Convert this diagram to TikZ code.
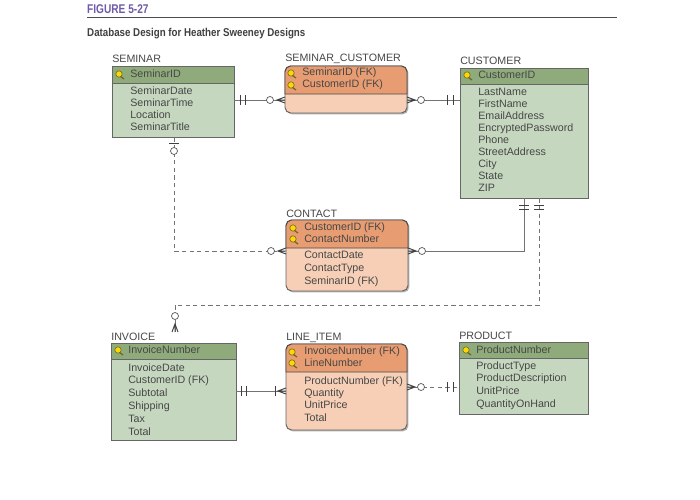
\documentclass[tikz,border=0pt]{standalone}
\usepackage{fontspec}
\setmainfont{Liberation Sans}
\usetikzlibrary{fit,shadows}

\colorlet{cInk}{black!72}
\definecolor{cGreenHead}{HTML}{8FAB7B}
\definecolor{cGreenBody}{HTML}{C6D7BF}
\definecolor{cOrangeHead}{HTML}{E89C72}
\definecolor{cOrangeBody}{HTML}{F6CFB6}
\definecolor{cPurple}{HTML}{6F5BA7}

\tikzset{
  txt/.style      = {font=\fontsize{7.6}{8.54}\selectfont, text=cInk, inner sep=0pt},
  attrs/.style    = {txt, anchor=north west, align=left},
  title/.style    = {txt, anchor=west},
  strongbox/.style= {draw=black!60, fill=cGreenBody, line width=0.7pt, inner sep=0pt,
                     drop shadow={shadow xshift=1pt, shadow yshift=-1pt, fill=black!60}},
  weakbox/.style  = {strongbox, fill=cOrangeBody, rounded corners=4pt},
  strongkey/.style= {draw=black!60, fill=cGreenHead, line width=0.7pt},
  weakkey/.style  = {draw=black!70, fill=cOrangeHead, line width=0.7pt},
  rel/.style      = {draw=black!55, line width=0.6pt},
  reldash/.style  = {rel, dashed, dash pattern=on 3pt off 2.4pt},
  onebar/.pic     = {\draw[black!75, line width=0.6pt] (0,-5) -- (0,5);},
  crow/.pic       = {\draw[black!75, line width=0.7pt] (8,-3) -- (0,0) -- (8,3) (0,0) -- (8,0);},
  ocircle/.pic    = {\draw[black!65, fill=white, line width=0.5pt] (0,0) circle (3.5);},
  keyicon/.pic    = {\draw[olive!70!black, fill=yellow!75!orange, line width=0.4pt] (0,0) circle (3.2);
                     \draw[olive!70!black, line width=0.9pt] (1.5,2.5) -- (5,5);},
}

\begin{document}
\begin{tikzpicture}[x=0.025cm, y=-0.025cm]

\useasboundingbox (0,0) rectangle (700,500);
\fill[white] (0,0) rectangle (700,500);

%% ---------- heading ----------
\node[anchor=west, inner sep=0pt, font=\fontsize{9}{10}\selectfont\bfseries, text=cPurple, xscale=0.8, transform shape] (figno) at (87,9) {FIGURE 5-27};
\draw[black!70, line width=0.7pt] (87,17) -- (617,17);
\node[anchor=west, inner sep=0pt, font=\fontsize{8.1}{10}\selectfont\bfseries, text=black!75, xscale=0.855, transform shape] (caption) at (87,34) {Database Design for Heather Sweeney Designs};

%% ---------- SEMINAR ----------
\node[title] (seminarname) at (112,59) {SEMINAR};
\node[strongbox, fit={(112,66) (234,137)}] (seminar) {};
\draw[strongkey] (112,66) rectangle (234,83);
\pic at (119,74) {keyicon};
\node[title] (seminarid) at (130,74) {SeminarID};
\node[attrs] at (130,86) {SeminarDate\\SeminarTime\\Location\\SeminarTitle};

%% ---------- SEMINAR_CUSTOMER ----------
\node[title] (semcustname) at (285,59) {SEMINAR\_CUSTOMER};
\node[weakbox, fit={(285,66) (407,113)}] (semcust) {};
\draw[weakkey] (285,94) [rounded corners=4pt] -- (285,66) -- (407,66) [sharp corners] -- (407,94) -- cycle;
\pic at (291,73) {keyicon};
\pic at (291,85) {keyicon};
\node[title] at (302,73) {SeminarID (FK)};
\node[title] at (302,85) {CustomerID (FK)};

%% ---------- CUSTOMER ----------
\node[title] (customername) at (460,61) {CUSTOMER};
\node[strongbox, fit={(460,68) (588,198)}] (customer) {};
\draw[strongkey] (460,68) rectangle (588,84);
\pic at (467,75) {keyicon};
\node[title] at (478,75) {CustomerID};
\node[attrs] at (478,88) {LastName\\FirstName\\EmailAddress\\EncryptedPassword\\Phone\\StreetAddress\\City\\State\\ZIP};

%% ---------- CONTACT ----------
\node[title] (contactname) at (286,214) {CONTACT};
\node[weakbox, fit={(286,220) (408,291)}] (contact) {};
\draw[weakkey] (286,248) [rounded corners=4pt] -- (286,220) -- (408,220) [sharp corners] -- (408,248) -- cycle;
\pic at (293,228) {keyicon};
\pic at (293,239) {keyicon};
\node[title] at (304,228) {CustomerID (FK)};
\node[title] at (304,239) {ContactNumber};
\node[attrs, font=\fontsize{7.6}{9.1}\selectfont] at (304,251) {ContactDate\\ContactType\\SeminarID (FK)};

%% ---------- INVOICE ----------
\node[title] (invoicename) at (111,337) {INVOICE};
\node[strongbox, fit={(111,343) (236,440)}] (invoice) {};
\draw[strongkey] (111,343) rectangle (236,359);
\pic at (118,350) {keyicon};
\node[title] at (128,350) {InvoiceNumber};
\node[attrs, font=\fontsize{7.6}{9.1}\selectfont] at (128,363) {InvoiceDate\\CustomerID (FK)\\Subtotal\\Shipping\\Tax\\Total};

%% ---------- LINE_ITEM ----------
\node[title] (lineitemname) at (286,338) {LINE\_ITEM};
\node[weakbox, fit={(286,344) (407,430)}] (lineitem) {};
\draw[weakkey] (286,372) [rounded corners=4pt] -- (286,344) -- (407,344) [sharp corners] -- (407,372) -- cycle;
\pic at (292,352) {keyicon};
\pic at (292,363) {keyicon};
\node[title] at (304,352) {InvoiceNumber (FK)};
\node[title] at (304,363) {LineNumber};
\node[attrs, font=\fontsize{7.6}{8.8}\selectfont] at (304,376) {ProductNumber (FK)\\Quantity\\UnitPrice\\Total};

%% ---------- PRODUCT ----------
\node[title] (productname) at (459,336) {PRODUCT};
\node[strongbox, fit={(459,342) (588,414)}] (product) {};
\draw[strongkey] (459,342) rectangle (588,358);
\pic at (466,350) {keyicon};
\node[title] at (476,350) {ProductNumber};
\node[attrs, font=\fontsize{7.6}{9.1}\selectfont] at (476,361) {ProductType\\ProductDescription\\UnitPrice\\QuantityOnHand};

%% ---------- relationships ----------
\coordinate (invoicefoot) at (175,332);

\draw[rel] (seminar.east |- 0,100) -- (semcust.west |- 0,100);
\pic at (240,100) {onebar};
\pic at (245,100) {onebar};
\pic at (277,100) {crow};
\pic at (270,100) {ocircle};

\draw[rel] (semcust.east |- 0,100) -- (customer.west |- 0,100);
\pic[rotate=180] at (415,100) {crow};
\pic at (421,100) {ocircle};
\pic at (447,100) {onebar};
\pic at (453,100) {onebar};

\draw[reldash] (seminar.south -| 174,0) -- (174,251) -- (contact.west |- 0,251);
\pic[rotate=90] at (174,143) {onebar};
\pic at (174,151) {ocircle};
\pic at (278,251) {crow};
\pic at (271,251) {ocircle};

\draw[rel] (contact.east |- 0,251) -- (524,251) -- (customer.south -| 524,0);
\pic[rotate=180] at (416,251) {crow};
\pic at (422,251) {ocircle};
\pic[rotate=90] at (524,205) {onebar};
\pic[rotate=90] at (524,209) {onebar};

\draw[reldash] (customer.south -| 539,0) -- (539,305) -- (175,305) -- (invoicefoot);
\pic[rotate=90] at (539,205) {onebar};
\pic[rotate=90] at (539,209) {onebar};
\pic at (175,316) {ocircle};
\pic[rotate=-90] at (175,324) {crow};

\draw[rel] (invoice.east |- 0,391) -- (lineitem.west |- 0,391);
\pic at (241,391) {onebar};
\pic at (246,391) {onebar};
\pic at (275,391) {onebar};
\pic at (278,391) {crow};

\draw[reldash] (lineitem.east |- 0,387) -- (product.west |- 0,387);
\pic[rotate=180] at (415,387) {crow};
\pic at (421,387) {ocircle};
\pic at (447,387) {onebar};
\pic at (453,387) {onebar};

\end{tikzpicture}
\end{document}
